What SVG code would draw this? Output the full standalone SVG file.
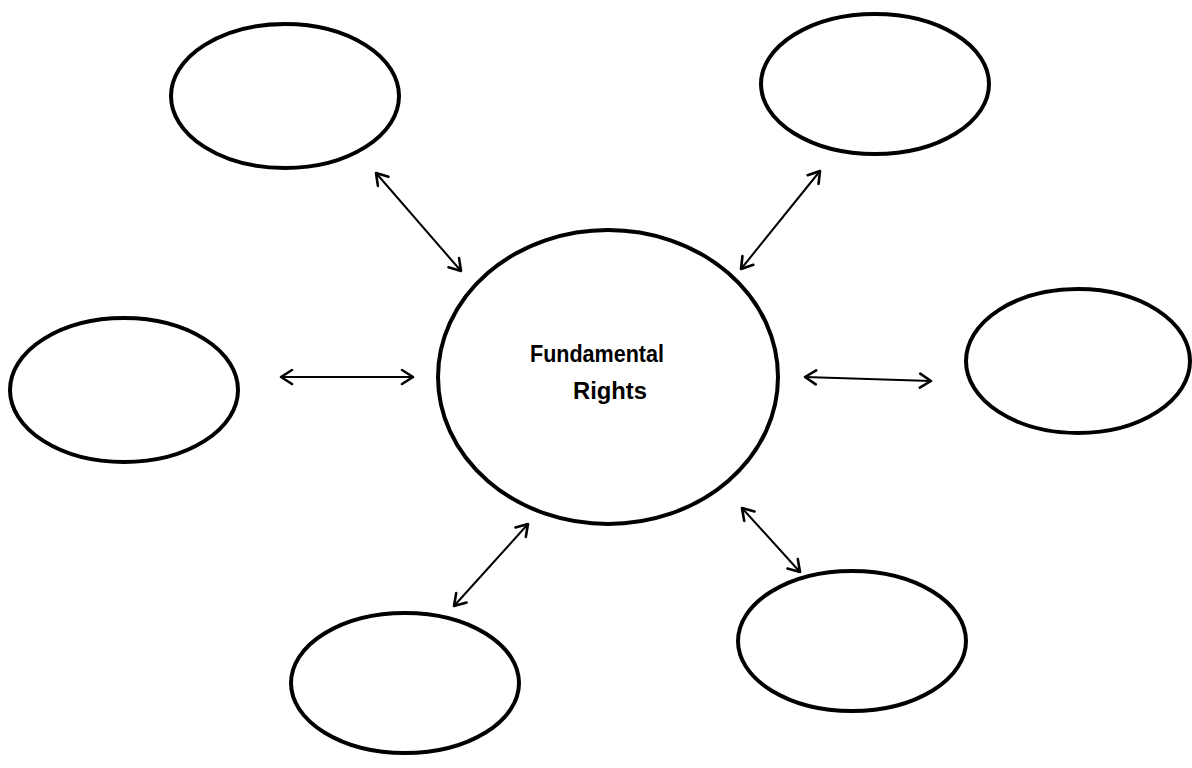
<svg xmlns="http://www.w3.org/2000/svg" width="1192" height="768" viewBox="0 0 1192 768">
<style>
.node{fill:#fff;stroke:#000;stroke-width:4}
.conn{stroke:#000;stroke-width:2;fill:none;marker-start:url(#ah);marker-end:url(#ah)}
.lbl{font-family:"Liberation Sans",Arial,sans-serif;font-weight:bold;font-size:23.5px;fill:#000;text-anchor:middle}
</style>
<defs>
<marker id="ah" markerUnits="userSpaceOnUse" viewBox="-14 -9 16 18" markerWidth="16" markerHeight="18" refX="0" refY="0" orient="auto-start-reverse">
<path d="M -11 -7 L 0 0 L -11 7" fill="none" stroke="#000" stroke-width="2.6" stroke-linecap="round" stroke-linejoin="round"/>
</marker>
</defs>
<rect width="1192" height="768" fill="#fff"/>
<g id="connectors">
<line class="conn" x1="376" y1="173" x2="461" y2="271"/>
<line class="conn" x1="741" y1="269" x2="820" y2="171"/>
<line class="conn" x1="281" y1="377" x2="413" y2="377"/>
<line class="conn" x1="805" y1="377" x2="931" y2="381"/>
<line class="conn" x1="528" y1="524" x2="454" y2="606"/>
<line class="conn" x1="742" y1="508" x2="800" y2="572"/>
</g>
<g id="center"><ellipse class="node" cx="608" cy="377" rx="170" ry="147"/>
<text class="lbl" x="597" y="362" textLength="134" lengthAdjust="spacingAndGlyphs">Fundamental</text>
<text class="lbl" x="610" y="399" textLength="74" lengthAdjust="spacingAndGlyphs">Rights</text></g>
<g id="top-left"><ellipse class="node" cx="285" cy="96" rx="114" ry="72"/></g>
<g id="top-right"><ellipse class="node" cx="875" cy="84" rx="114" ry="70"/></g>
<g id="left"><ellipse class="node" cx="124" cy="390" rx="114" ry="72"/></g>
<g id="right"><ellipse class="node" cx="1078" cy="361" rx="112" ry="72"/></g>
<g id="bottom-left"><ellipse class="node" cx="405" cy="683" rx="114" ry="70"/></g>
<g id="bottom-right"><ellipse class="node" cx="852" cy="641" rx="114" ry="70"/></g>
</svg>
